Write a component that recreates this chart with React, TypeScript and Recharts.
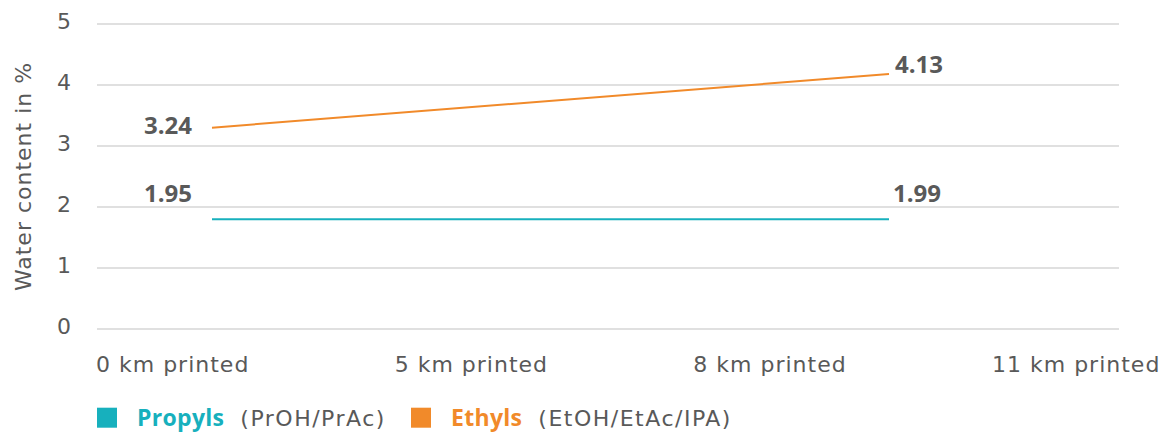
import React from 'react';
import { LineChart, Line, XAxis, YAxis, CartesianGrid, Legend, LabelList } from 'recharts';

// ---- data ----
const stages = ['0 km printed', '8 km printed'];
const propylsValues = [1.8, 1.8];
const ethylsValues = [3.3, 4.18];
const propylsLabels = ['1.95', '1.99'];
const ethylsLabels = ['3.24', '4.13'];
const axisCategories = ['0 km printed', '5 km printed', '8 km printed', '11 km printed'];
const yTicks = [0, 1, 2, 3, 4, 5];
const seriesNames = ['Propyls', 'Ethyls'];
const seriesSubtitles = ['(PrOH/PrAc)', '(EtOH/EtAc/IPA)'];
const yAxisTitle = 'Water content  in %';

const seriesData = stages.map((stage, i) => ({
  stage,
  propyls: propylsValues[i],
  ethyls: ethylsValues[i],
}));
const axisData = axisCategories.map((category) => ({ category }));

// ---- styles ----
const TEAL = '#17B0BD';
const ORANGE = '#F18A2A';
const COLORS = [TEAL, ORANGE];
const GRAY = '#595959';
const GRID = '#D6D6D6';
const REG = "'DejaVu Sans', sans-serif";
const BOLD = "'Open Sans', sans-serif";

const labelStyle = {
  propyls: [
    { dx: -20, dy: -17.6, anchor: 'end' },
    { dx: 4, dy: -17.6, anchor: 'start' },
  ],
  ethyls: [
    { dx: -20, dy: 6.6, anchor: 'end' },
    { dx: 6, dy: -1.4, anchor: 'start' },
  ],
};

const makeLabel = (texts: string[], styles: any[]) => (props: any) => {
  const { x, y, index } = props;
  const s = styles[index];
  if (!s) return null;
  return (
    <text
      x={x + s.dx}
      y={y + s.dy}
      textAnchor={s.anchor}
      fill={GRAY}
      fontFamily={BOLD}
      fontWeight={700}
      fontSize={24}
    >
      {texts[index]}
    </text>
  );
};

const YTick = (props: any) => (
  <text x={props.x} y={props.y + 5} textAnchor="end" fill={GRAY} fontSize={22} fontFamily={REG}>
    {props.payload.value}
  </text>
);

const XTick = (props: any) => (
  <text x={props.x - 1} y={props.y} textAnchor="start" fill={GRAY} fontSize={22} fontFamily={REG} letterSpacing={1}>
    {props.payload.value}
  </text>
);

const YTitle = (props: any) => {
  const vb = props.viewBox || { x: 0, y: 24, height: 305 };
  const cx = vb.x + 31;
  const cy = vb.y + vb.height / 2;
  return (
    <text
      transform={`rotate(-90 ${cx} ${cy})`}
      x={cx}
      y={cy}
      textAnchor="middle"
      fill={GRAY}
      fontSize={22}
      fontFamily={REG}
      letterSpacing={1}
    >
      {yAxisTitle}
    </text>
  );
};

const renderLegend = () => (
  <svg width={1168} height={40} style={{ display: 'block' }}>
    {seriesNames.map((name, i) => {
      const x0 = 97 + i * 314;
      return (
        <g key={name}>
          <rect x={x0} y={12.7} width={20} height={20} fill={COLORS[i]} />
          <text x={x0 + 40} y={31} fontSize={22} fontFamily={REG}>
            <tspan fontFamily={BOLD} fontWeight={700} fontSize={23} fill={COLORS[i]} letterSpacing={0.3}>
              {name}
            </tspan>
            <tspan dx={16} fill={GRAY} letterSpacing={1.5}>
              {seriesSubtitles[i]}
            </tspan>
          </text>
        </g>
      );
    })}
  </svg>
);

export default function App() {
  return (
    <div style={{ width: 1168, height: 435 }}>
      <style>{'body{margin:0}'}</style>
      <LineChart
        width={1168}
        height={435}
        data={axisData}
        margin={{ top: 24, right: 49, bottom: 0, left: 0 }}
      >
        <CartesianGrid xAxisId="pts" vertical={false} stroke={GRID} strokeWidth={1.3} />
        <XAxis
          xAxisId="pts"
          dataKey="stage"
          type="category"
          allowDuplicatedCategory={false}
          hide
          padding={{ left: 115, right: 230 }}
        />
        <XAxis
          xAxisId="lbl"
          dataKey="category"
          type="category"
          padding={{ left: 0, right: 126 }}
          interval={0}
          height={66}
          axisLine={false}
          tickLine={false}
          tickSize={0}
          tickMargin={43}
          tick={<XTick />}
        />
        <YAxis
          width={97}
          domain={[0, 5]}
          ticks={yTicks}
          interval={0}
          axisLine={false}
          tickLine={false}
          tickSize={0}
          tickMargin={26}
          tick={<YTick />}
          label={<YTitle />}
        />
        <Legend
          verticalAlign="bottom"
          content={renderLegend}
          wrapperStyle={{ left: 0, bottom: 0, width: 1168, height: 40 }}
        />
        <Line
          xAxisId="pts"
          data={seriesData}
          name={seriesNames[0]}
          dataKey="propyls"
          stroke={TEAL}
          strokeWidth={2}
          dot={false}
          isAnimationActive={false}
        >
          <LabelList dataKey="propyls" content={makeLabel(propylsLabels, labelStyle.propyls)} />
        </Line>
        <Line
          xAxisId="pts"
          data={seriesData}
          name={seriesNames[1]}
          dataKey="ethyls"
          stroke={ORANGE}
          strokeWidth={2}
          dot={false}
          isAnimationActive={false}
        >
          <LabelList dataKey="ethyls" content={makeLabel(ethylsLabels, labelStyle.ethyls)} />
        </Line>
      </LineChart>
    </div>
  );
}
